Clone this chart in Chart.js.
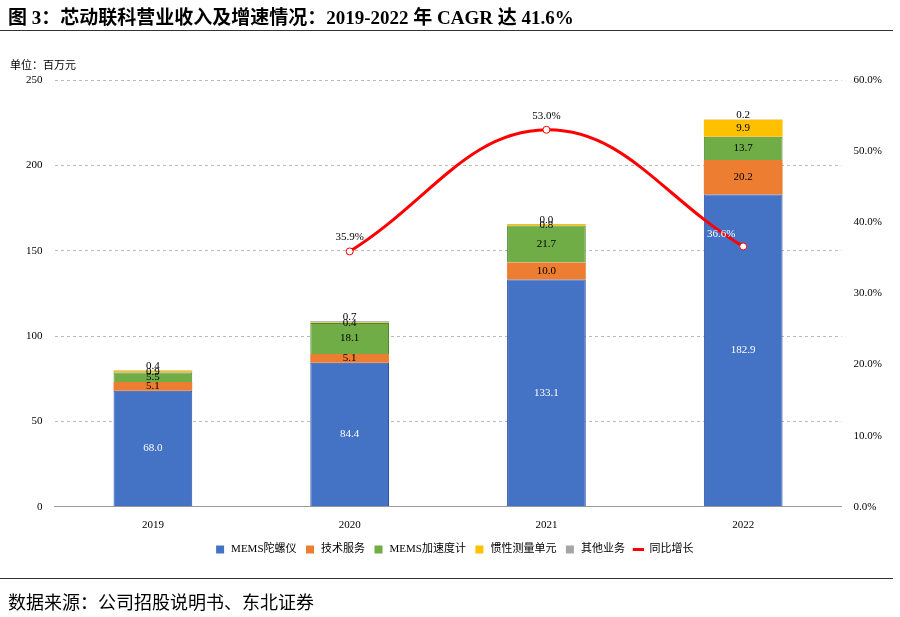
<!DOCTYPE html>
<html>
<head>
<meta charset="utf-8">
<script src="https://cdn.jsdelivr.net/npm/chart.js@4"></script>
<style>
body { margin: 0; background: #fff; font-family: "Liberation Serif", "Noto Sans CJK SC", serif; }
#wrap { position: relative; width: 900px; height: 617px; }
#title { position: absolute; left: 8px; top: 2px; font-size: 19px; font-weight: bold; white-space: nowrap; }
#rule { position: absolute; left: 0; top: 30px; width: 893px; border-top: 1px solid #333; }
#unit { position: absolute; left: 10px; top: 56px; font-size: 11px; }
#source { position: absolute; left: 8px; top: 588px; font-size: 18px; }
#srule { position: absolute; left: 0; top: 578px; width: 893px; border-top: 1px solid #333; }
canvas { position: absolute; left: 0; top: 0; }
</style>
</head>
<body>
<div id="wrap">
  <canvas id="chart"></canvas>
  <div id="title">图 3：芯动联科营业收入及增速情况：2019-2022 年 CAGR 达 41.6%</div>
  <div id="rule"></div>
  <div id="unit">单位：百万元</div>
  <div id="srule"></div>
  <div id="source">数据来源：公司招股说明书、东北证券</div>
</div>
<script>
var years = ['2019', '2020', '2021', '2022'];
var gyro = [68.0, 84.4, 133.1, 182.9];
var techService = [5.1, 5.1, 10.0, 20.2];
var accel = [5.5, 18.1, 21.7, 13.7];
var inertial = [0.9, 0.4, 0.8, 9.9];
var other = [0.4, 0.7, 0.0, 0.2];
var growth = [null, 35.9, 53.0, 36.6];

var labelPlugin = {
    id: 'labels',
    afterDatasetsDraw: function(chart) {
        var ctx = chart.ctx;
        ctx.save();
        ctx.font = '11px "Liberation Serif"';
        ctx.textAlign = 'center';
        ctx.textBaseline = 'middle';
        chart.data.datasets.forEach(function(ds, di) {
            var meta = chart.getDatasetMeta(di);
            meta.data.forEach(function(el, i) {
                var v = ds.data[i];
                if (v === null) return;
                if (ds.type === 'line') {
                    if (i === 3) {
                        ctx.fillStyle = '#fff';
                        ctx.fillText(v.toFixed(1) + '%', el.x - 22, el.y - 12);
                    } else {
                        ctx.fillStyle = '#000';
                        ctx.fillText(v.toFixed(1) + '%', el.x, el.y - 14);
                    }
                } else {
                    ctx.fillStyle = di === 0 ? '#fff' : '#000';
                    var y = (el.y + el.base) / 2;
                    if (di === 4) y = el.y - 4;
                    ctx.fillText(v.toFixed(1), el.x, y);
                }
            });
        });
        ctx.restore();
    }
};

function bar(label, data, color, border) {
    return { type: 'bar', label: label, data: data, backgroundColor: color, borderColor: border || color,
             borderWidth: border ? 1 : 0, barPercentage: 0.8, categoryPercentage: 0.5, yAxisID: 'y', order: 2 };
}

Chart.defaults.font.family = '"Liberation Serif", "Noto Sans CJK SC", serif';
Chart.defaults.color = '#000';

new Chart(document.getElementById('chart'), {
    data: {
        labels: years,
        datasets: [
            bar('MEMS陀螺仪', gyro, '#4472C4', '#2F4FA8'),
            bar('技术服务', techService, '#ED7D31'),
            bar('MEMS加速度计', accel, '#70AD47', '#4E8A2E'),
            bar('惯性测量单元', inertial, '#FFC000'),
            bar('其他业务', other, '#A5A5A5'),
            { type: 'line', label: '同比增长', data: growth, yAxisID: 'y1', borderColor: '#FF0000',
              borderWidth: 3, tension: 0.4, pointRadius: 3.5, pointBackgroundColor: '#fff',
              pointBorderColor: '#FF0000', pointBorderWidth: 1, order: 0 }
        ]
    },
    options: {
        responsive: true,
        maintainAspectRatio: false,
        animation: false,
        layout: { padding: { top: 80, bottom: 52, left: 14, right: 6 } },
        plugins: {
            tooltip: { enabled: false },
            legend: {
                position: 'bottom',
                labels: { usePointStyle: true, boxWidth: 22, boxHeight: 8, font: { size: 11 }, padding: 8,
                    generateLabels: function(chart) {
                        return chart.data.datasets.map(function(ds, i) {
                            return { text: ds.label, fillStyle: ds.type === 'line' ? '#fff' : ds.backgroundColor,
                                     strokeStyle: ds.type === 'line' ? '#FF0000' : ds.backgroundColor,
                                     lineWidth: ds.type === 'line' ? 3 : 0,
                                     pointStyle: ds.type === 'line' ? 'line' : 'rect', datasetIndex: i };
                        });
                    } }
            }
        },
        scales: {
            x: { stacked: true, grid: { display: false }, border: { color: '#999' }, ticks: { font: { size: 11 }, padding: 4 } },
            y: { stacked: true, min: 0, max: 250, ticks: { stepSize: 50, font: { size: 11 }, padding: 12 },
                 grid: { color: '#bbb', drawTicks: false }, border: { display: false, dash: [3, 3] } },
            y1: { position: 'right', min: 0, max: 60, grid: { display: false, drawTicks: false }, border: { display: false },
                  ticks: { stepSize: 10, font: { size: 11 }, padding: 12, callback: function(v) { return v.toFixed(1) + '%'; } } }
        }
    },
    plugins: [labelPlugin]
});
</script>
</body>
</html>
